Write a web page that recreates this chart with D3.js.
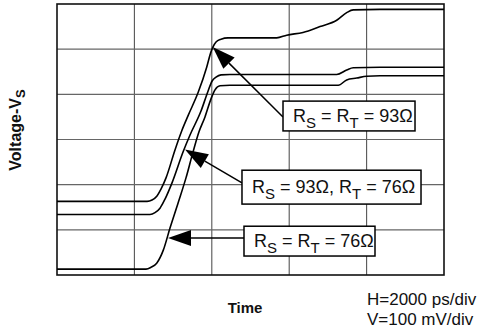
<!DOCTYPE html>
<html><head><meta charset="utf-8">
<script src="https://cdn.jsdelivr.net/npm/d3@7"></script>
<style>
html,body{margin:0;padding:0;background:#fff;}
svg{display:block;font-family:"Liberation Sans",Arial,Helvetica,sans-serif;}
</style></head>
<body>
<svg id="chart" width="481" height="330"></svg>
<script>
// Time in ps, voltage in mV (H=2000 ps/div, V=100 mV/div)
const xTicks = [0, 2000, 4000, 6000, 8000, 10000];
const yTicks = [0, 100, 200, 300, 400, 500, 600];

const tA = [0, 2326, 2455, 2584, 2687, 2817, 3049, 3222, 3393, 3651, 3868, 3979, 4031, 4109, 4238, 4419, 4729, 5677, 5935, 6357, 6796, 7227, 7486, 7656, 8346, 10000];
const vA = [163, 163, 166, 175, 190, 215, 277, 319, 354, 405, 460, 494, 505, 516, 522, 525, 525, 525, 531, 537, 550, 564, 581, 587, 588, 588];

const tB = [0, 2403, 2532, 2661, 2791, 2972, 3264, 3437, 3721, 3902, 4005, 4109, 4238, 4470, 7227, 7486, 7656, 8346, 10000];
const vB = [134, 134, 138, 148, 168, 204, 274, 310, 363, 407, 429, 438, 443, 444, 444, 454, 459, 460, 460];

const tC = [0, 2300, 2429, 2576, 2747, 2920, 3127, 3333, 3514, 3669, 3824, 3979, 4083, 4212, 4470, 7269, 7486, 7744, 8003, 8346, 10000];
const vC = [13, 13, 17, 26, 55, 104, 159, 215, 272, 317, 350, 390, 410, 419, 420, 420, 432, 436, 440, 441, 441];

// Annotation labels: [text, isSubscript]
const labels = [
  [["R", false], ["S", true], [" = R", false], ["T", true], [" = 93\u03A9", false]],
  [["R", false], ["S", true], [" = 93\u03A9, R", false], ["T", true], [" = 76\u03A9", false]],
  [["R", false], ["S", true], [" = R", false], ["T", true], [" = 76\u03A9", false]]
];
// boxes in data units: [t0, t1, vTop, vBottom]
const boxes = [[5840, 9251, 385, 319], [4780, 9406, 232, 157], [4832, 8217, 108, 42]];
// arrows in data units: tail [t, v] -> tip [t, v]
const arrowTails = [[5840, 350], [4780, 204], [4832, 82]];
const arrowTips = [[4023, 505], [3307, 278], [2868, 82]];

const svg = d3.select("#chart");
const x = d3.scaleLinear().domain([0, 10000]).range([57, 444]);
const y = d3.scaleLinear().domain([0, 600]).range([275, 4]);

// grid
const g = svg.append("g");
g.selectAll(".vg").data(xTicks.slice(1, -1)).join("line")
  .attr("x1", d => x(d)).attr("x2", d => x(d)).attr("y1", y(600)).attr("y2", y(0))
  .attr("stroke", "#555").attr("stroke-width", 1.1);
g.selectAll(".hg").data(yTicks.slice(1, -1)).join("line")
  .attr("x1", x(0)).attr("x2", x(10000)).attr("y1", d => y(d)).attr("y2", d => y(d))
  .attr("stroke", "#666").attr("stroke-width", 1.1);
g.append("rect").attr("x", x(0)).attr("y", y(600)).attr("width", x(10000) - x(0)).attr("height", y(0) - y(600))
  .attr("fill", "none").attr("stroke", "#111").attr("stroke-width", 1.6);

// traces
const line = d3.line().x(d => x(d[0])).y(d => y(d[1])).curve(d3.curveMonotoneX);
[[tA, vA], [tB, vB], [tC, vC]].forEach(([t, v]) => {
  svg.append("path").datum(t.map((tt, i) => [tt, v[i]]))
    .attr("d", line).attr("fill", "none").attr("stroke", "#000").attr("stroke-width", 1.6)
    .attr("stroke-linejoin", "round");
});

// arrows
arrowTails.forEach((tail, i) => {
  const tip = arrowTips[i];
  const x1 = x(tail[0]), y1 = y(tail[1]), x2 = x(tip[0]), y2 = y(tip[1]);
  const ang = Math.atan2(y2 - y1, x2 - x1);
  const L = 23, W = 8;
  const bx = x2 - L * Math.cos(ang), by = y2 - L * Math.sin(ang);
  svg.append("line").attr("x1", x1).attr("y1", y1).attr("x2", bx).attr("y2", by)
    .attr("stroke", "#000").attr("stroke-width", 1.5);
  const p1 = [bx + W * Math.sin(ang), by - W * Math.cos(ang)];
  const p2 = [bx - W * Math.sin(ang), by + W * Math.cos(ang)];
  svg.append("path").attr("d", `M${x2},${y2}L${p1[0]},${p1[1]}L${p2[0]},${p2[1]}Z`).attr("fill", "#000");
});

// boxes + labels
boxes.forEach((b, i) => {
  const bx0 = x(b[0]), bx1 = x(b[1]), by0 = y(b[2]), by1 = y(b[3]);
  svg.append("rect").attr("x", bx0).attr("y", by0).attr("width", bx1 - bx0).attr("height", by1 - by0)
    .attr("fill", "#fff").attr("stroke", "#000").attr("stroke-width", 1.5);
  const txt = svg.append("text").attr("x", bx0 + 10).attr("y", by0 + (by1 - by0) / 2 + 6)
    .attr("font-size", 18).attr("fill", "#111");
  labels[i].forEach(([s, sub], k) => {
    const prevSub = k > 0 && labels[i][k - 1][1];
    const ts = txt.append("tspan").text(s);
    if (sub) ts.attr("font-size", 15).attr("dy", 6);
    else if (prevSub) ts.attr("dy", -6);
  });
});

// axis titles
const yl = svg.append("text").attr("transform", "translate(21,130) rotate(-90)")
  .attr("text-anchor", "middle").attr("font-size", 16).attr("font-weight", "bold").attr("fill", "#111");
yl.append("tspan").text("Voltage-V");
yl.append("tspan").text("S").attr("font-size", 13).attr("dy", 4);

svg.append("text").attr("x", 245).attr("y", 313).attr("text-anchor", "middle")
  .attr("font-size", 15).attr("font-weight", "bold").attr("fill", "#111").text("Time");
svg.append("text").attr("x", 367).attr("y", 305).attr("font-size", 17).attr("fill", "#111").text("H=2000 ps/div");
svg.append("text").attr("x", 367).attr("y", 325).attr("font-size", 17).attr("fill", "#111").text("V=100 mV/div");
</script>
</body></html>
